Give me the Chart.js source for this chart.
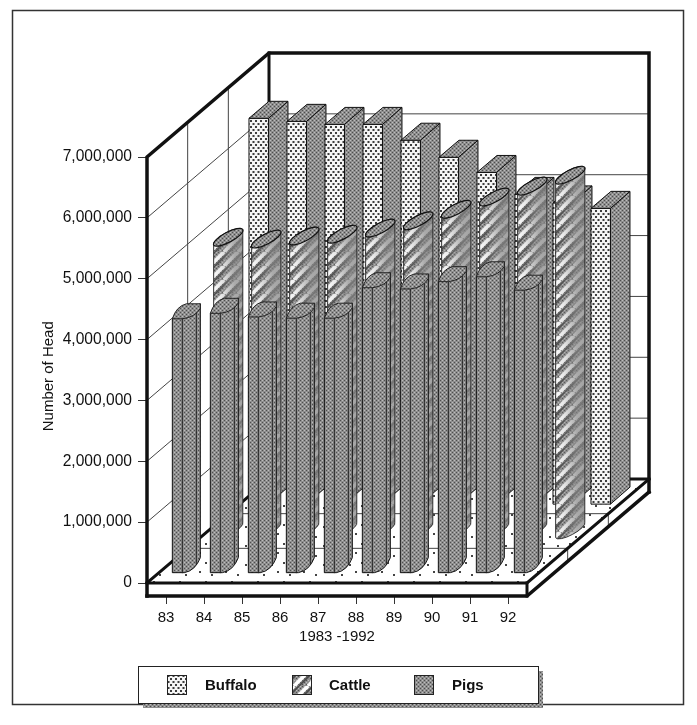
<!DOCTYPE html>
<html>
<head>
<meta charset="utf-8">
<title>Number of Head 1983-1992</title>
<script src="https://cdn.jsdelivr.net/npm/chart.js@4"></script>
<style>
    html, body { margin: 0; padding: 0; background: #fff; }
    canvas { display: block; }
</style>
</head>
<body>
<canvas id="chart" width="697" height="725"></canvas>
<script>
const years = ['83', '84', '85', '86', '87', '88', '89', '90', '91', '92'];
const buffalo = [6340000, 6290000, 6240000, 6240000, 5980000, 5700000, 5450000, 5090000, 4950000, 4860000];
const cattle = [4810000, 4780000, 4830000, 4860000, 4960000, 5080000, 5270000, 5470000, 5650000, 5830000];
const pigs = [4180000, 4270000, 4210000, 4190000, 4190000, 4690000, 4670000, 4790000, 4870000, 4650000];

const DEPTH_X = 122;
const DEPTH_Y = 104;
const SLAB = 13;
const INK = '#111';

function makePattern(w, h, paint) {
    const c = document.createElement('canvas');
    c.width = w;
    c.height = h;
    paint(c.getContext('2d'));
    return document.createElement('canvas').getContext('2d').createPattern(c, 'repeat');
}

// dark speckle used on pigs and on the sides of the buffalo bars
function paintStipple(g, w, h) {
    g.fillStyle = '#8e8e8e';
    g.fillRect(0, 0, w, h);
    for (let y = 0; y < h; y += 2) {
        for (let x = (y % 4) ? 2 : 0; x < w; x += 4) {
            g.fillStyle = '#4e4e4e';
            g.fillRect(x, y, 1, 1);
            g.fillStyle = '#bdbdbd';
            g.fillRect((x + 2) % w, y, 1, 1);
        }
    }
}

const stipple = makePattern(4, 4, g => paintStipple(g, 4, 4));

const dots = makePattern(5, 6, g => {
    g.fillStyle = '#f4f4f4';
    g.fillRect(0, 0, 5, 6);
    g.fillStyle = '#3c3c3c';
    g.fillRect(0, 0, 2, 2);
    g.fillRect(2.5, 3, 2, 2);
});

const hatch = makePattern(14, 14, g => {
    paintStipple(g, 14, 14);
    g.lineCap = 'butt';
    for (let i = -1; i < 2; i++) {
        g.strokeStyle = '#fff';
        g.lineWidth = 3.6;
        g.beginPath();
        g.moveTo(i * 14, 14);
        g.lineTo((i + 1) * 14, 0);
        g.stroke();
        g.strokeStyle = '#484848';
        g.lineWidth = 1.6;
        g.beginPath();
        g.moveTo(i * 14 + 5, 14);
        g.lineTo((i + 1) * 14 + 5, 0);
        g.stroke();
    }
});

const floorDots = makePattern(26, 19, g => {
    g.fillStyle = '#fff';
    g.fillRect(0, 0, 26, 19);
    g.fillStyle = '#444';
    g.fillRect(3, 4, 2, 2);
    g.fillRect(17, 1, 2, 2);
    g.fillRect(11, 13, 2, 2);
    g.fillRect(23, 11, 2, 2);
});

function line(ctx, pts, width, color) {
    ctx.beginPath();
    pts.forEach((p, i) => i ? ctx.lineTo(p[0], p[1]) : ctx.moveTo(p[0], p[1]));
    ctx.lineWidth = width;
    ctx.strokeStyle = color || INK;
    ctx.lineCap = 'square';
    ctx.lineJoin = 'miter';
    ctx.stroke();
}

function drawBox(ctx, cx, top, base) {
    const x0 = cx - 19.5, x1 = cx, x2 = cx + 19.5;
    const d = 8.5;
    ctx.lineWidth = 1;
    ctx.strokeStyle = INK;
    ctx.fillStyle = dots;
    ctx.beginPath();
    ctx.rect(x0, top + d, x1 - x0, base - top);
    ctx.fill();
    ctx.stroke();
    ctx.fillStyle = stipple;
    ctx.beginPath();
    ctx.moveTo(x1, top + d);
    ctx.lineTo(x2, top - d);
    ctx.lineTo(x2, base - d);
    ctx.lineTo(x1, base + d);
    ctx.closePath();
    ctx.fill();
    ctx.stroke();
    ctx.beginPath();
    ctx.moveTo(x0, top + d);
    ctx.lineTo(x1, top + d);
    ctx.lineTo(x2, top - d);
    ctx.lineTo(x0 + 20, top - d);
    ctx.closePath();
    ctx.fill();
    ctx.stroke();
}

function drawCylinder(ctx, cx, top, base) {
    const rx = 16.5, ry = 5, rot = -28 * Math.PI / 180;
    ctx.lineWidth = 1;
    ctx.strokeStyle = '#333';
    ctx.beginPath();
    ctx.ellipse(cx, base, rx, ry, rot, Math.PI, 0, true);
    ctx.ellipse(cx, top, rx, ry, rot, 0, Math.PI, true);
    ctx.closePath();
    ctx.fillStyle = hatch;
    ctx.fill();
    // shade the round side, the white stripes die out to the right
    const shade = ctx.createLinearGradient(cx - rx, 0, cx + rx, 0);
    shade.addColorStop(0, 'rgba(140,140,140,0)');
    shade.addColorStop(0.3, 'rgba(140,140,140,0.2)');
    shade.addColorStop(0.7, 'rgba(135,135,135,0.7)');
    shade.addColorStop(1, 'rgba(130,130,130,0.75)');
    ctx.fillStyle = shade;
    ctx.fill();
    ctx.stroke();
    ctx.beginPath();
    ctx.ellipse(cx, top, rx, ry, rot, 0, Math.PI * 2);
    ctx.fillStyle = stipple;
    ctx.fill();
    ctx.lineWidth = 1.2;
    ctx.strokeStyle = INK;
    ctx.stroke();
}

function drawSlim(ctx, cx, top, base) {
    ctx.lineWidth = 1;
    ctx.strokeStyle = INK;
    ctx.fillStyle = stipple;
    ctx.beginPath();
    ctx.moveTo(cx - 14, top + 7.5);
    ctx.lineTo(cx - 14, base + 7);
    ctx.lineTo(cx - 2, base + 7);
    ctx.quadraticCurveTo(cx + 9, base + 5, cx + 14, base - 8);
    ctx.lineTo(cx + 14, top - 7.5);
    ctx.closePath();
    ctx.fill();
    ctx.stroke();
    // inner edges of the section
    line(ctx, [[cx - 4, top + 7.5], [cx - 4, base + 7]], 1, '#222');
    line(ctx, [[cx + 10, top - 2], [cx + 10, base - 2]], 1, '#222');
    ctx.lineCap = 'butt';
    ctx.beginPath();
    ctx.moveTo(cx - 14, top + 7.5);
    ctx.quadraticCurveTo(cx - 10, top - 5, cx, top - 7.5);
    ctx.lineTo(cx + 14, top - 7.5);
    ctx.lineTo(cx + 14, top - 3);
    ctx.quadraticCurveTo(cx + 9, top + 6, cx - 4, top + 7.5);
    ctx.closePath();
    ctx.fillStyle = stipple;
    ctx.fill();
    ctx.stroke();
}

// the open box: walls, floor and slab, all hung on the scales
const roomPlugin = {
    id: 'room',
    beforeDraw(chart) {
        const ctx = chart.ctx;
        ctx.save();
        ctx.fillStyle = '#fff';
        ctx.fillRect(0, 0, chart.width, chart.height);
        ctx.strokeStyle = '#333';
        ctx.lineWidth = 1.5;
        ctx.strokeRect(12.5, 10.5, 671, 694);
        ctx.restore();
    },
    beforeDatasetsDraw(chart) {
        const ctx = chart.ctx;
        const yScale = chart.scales.y;
        const L = chart.chartArea.left, R = chart.chartArea.right;
        const T = yScale.getPixelForValue(yScale.max), B = yScale.getPixelForValue(0);
        ctx.save();

        ctx.fillStyle = floorDots;
        ctx.beginPath();
        ctx.moveTo(L, B);
        ctx.lineTo(R, B);
        ctx.lineTo(R + DEPTH_X, B - DEPTH_Y);
        ctx.lineTo(L + DEPTH_X, B - DEPTH_Y);
        ctx.closePath();
        ctx.fill();

        // slab front and side cover the upper part of the x ticks
        ctx.fillStyle = '#fff';
        ctx.fillRect(L, B, R - L, SLAB);
        ctx.beginPath();
        ctx.moveTo(R, B);
        ctx.lineTo(R + DEPTH_X, B - DEPTH_Y);
        ctx.lineTo(R + DEPTH_X, B - DEPTH_Y + SLAB);
        ctx.lineTo(R, B + SLAB);
        ctx.closePath();
        ctx.fill();

        yScale.ticks.forEach(t => {
            if (t.value === 0 || t.value === yScale.max) return;
            const y = yScale.getPixelForValue(t.value);
            line(ctx, [[L, y], [L + DEPTH_X, y - DEPTH_Y], [R + DEPTH_X, y - DEPTH_Y]], 1, '#444');
        });
        [1 / 3, 2 / 3].forEach(f => {
            const dx = DEPTH_X * f, dy = DEPTH_Y * f;
            line(ctx, [[L + dx, T - dy], [L + dx, B - dy], [R + dx, B - dy]], 1, '#444');
            line(ctx, [[R + dx, B - dy], [R + dx, B - dy + SLAB]], 1, '#444');
        });

        // heavy outline
        line(ctx, [[L, B + SLAB], [L, T], [L + DEPTH_X, T - DEPTH_Y], [R + DEPTH_X, T - DEPTH_Y], [R + DEPTH_X, B - DEPTH_Y + SLAB]], 3.5);
        line(ctx, [[L + DEPTH_X, T - DEPTH_Y], [L + DEPTH_X, B - DEPTH_Y], [R + DEPTH_X, B - DEPTH_Y]], 3);
        line(ctx, [[L, B], [L + DEPTH_X, B - DEPTH_Y]], 3);
        line(ctx, [[L, B], [R, B], [R + DEPTH_X, B - DEPTH_Y]], 3);
        line(ctx, [[L, B + SLAB], [R, B + SLAB], [R + DEPTH_X, B - DEPTH_Y + SLAB]], 3.5);
        line(ctx, [[R, B], [R, B + SLAB]], 3);
        ctx.restore();
    },
    afterDatasetsDraw(chart) {
        const ctx = chart.ctx;
        const xScale = chart.scales.x, yScale = chart.scales.y;
        ctx.save();
        chart.data.datasets.forEach(ds => {
            const dx = DEPTH_X * ds.depth, dy = DEPTH_Y * ds.depth;
            ds.data.forEach((v, i) => {
                const cx = xScale.getPixelForValue(i) + dx;
                const top = yScale.getPixelForValue(v) - dy;
                const base = yScale.getPixelForValue(0) - dy;
                ds.drawBar(ctx, cx, top, base);
            });
        });
        ctx.restore();
        drawKey(chart);
    }
};

function drawKey(chart) {
    const ctx = chart.ctx;
    const swatchX = [167, 292, 414];
    const textX = [205, 329, 452];
    const fills = [dots, hatch, stipple];
    ctx.save();
    ctx.fillStyle = stipple;
    ctx.fillRect(143, 671, 400, 37);
    ctx.fillStyle = '#fff';
    ctx.fillRect(138, 666, 400, 37);
    ctx.strokeStyle = '#222';
    ctx.lineWidth = 1;
    ctx.strokeRect(138.5, 666.5, 400, 37);
    ctx.font = 'bold 15px "Liberation Sans", Arial, sans-serif';
    ctx.textBaseline = 'middle';
    chart.data.datasets.forEach((ds, i) => {
        ctx.fillStyle = fills[i];
        ctx.fillRect(swatchX[i], 675, 19, 19);
        ctx.strokeRect(swatchX[i] + 0.5, 675.5, 19, 19);
        ctx.fillStyle = INK;
        ctx.fillText(ds.label, textX[i], 685.5);
    });
    ctx.restore();
}

const labelFont = {family: '"Liberation Sans", Arial, sans-serif', size: 15};

new Chart(document.getElementById('chart'), {
    type: 'bar',
    data: {
        labels: years,
        datasets: [
            {label: 'Buffalo', data: buffalo, depth: 0.84, drawBar: drawBox, backgroundColor: 'transparent'},
            {label: 'Cattle', data: cattle, depth: 0.51, drawBar: drawCylinder, backgroundColor: 'transparent'},
            {label: 'Pigs', data: pigs, depth: 1 / 6, drawBar: drawSlim, backgroundColor: 'transparent'}
        ]
    },
    options: {
        responsive: false,
        animation: false,
        devicePixelRatio: 1,
        layout: {padding: {left: 40, top: 157, right: 170, bottom: 79}},
        plugins: {
            legend: {display: false},
            tooltip: {enabled: false}
        },
        scales: {
            x: {
                afterFit: scale => { scale.height = 63; },
                border: {display: false},
                grid: {offset: false, drawOnChartArea: false, tickLength: 21, tickColor: '#333'},
                ticks: {font: labelFont, color: INK, padding: 5, maxRotation: 0, autoSkip: false},
                title: {display: true, text: '1983 -1992', font: labelFont, color: INK, padding: 0}
            },
            y: {
                min: 0,
                max: 7000000,
                afterFit: scale => { scale.width = 107; },
                border: {display: false},
                grid: {drawOnChartArea: false, tickLength: 9, tickColor: '#333'},
                ticks: {
                    stepSize: 1000000,
                    font: {family: labelFont.family, size: 15.6},
                    color: INK,
                    padding: 6,
                    callback: value => value.toLocaleString('en-US')
                },
                // trailing spaces push the centred title down to where the original sits
                title: {display: true, text: 'Number of Head   ', font: labelFont, color: INK, padding: 0}
            }
        }
    },
    plugins: [roomPlugin]
});
</script>
</body>
</html>
